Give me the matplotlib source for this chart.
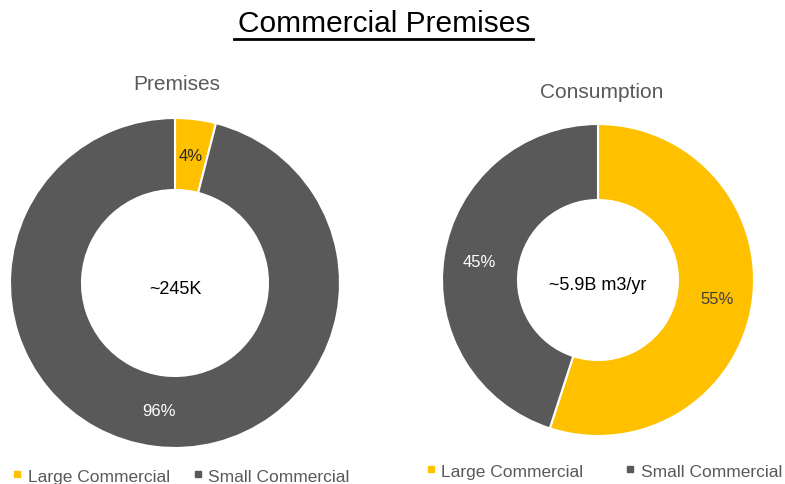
import matplotlib
matplotlib.use("Agg")
import matplotlib.pyplot as plt
from matplotlib.lines import Line2D
import numpy as np

plt.rcParams['font.family'] = ['Liberation Sans', 'DejaVu Sans']

categories = ["Large Commercial", "Small Commercial"]
premises_pct = [4, 96]
consumption_pct = [55, 45]
colors = ["#FFC000", "#595959"]

W, H = 785, 485
fig = plt.figure(figsize=(W / 100, H / 100), dpi=100)


def px_axes(cx, cy, r):
    return fig.add_axes([(cx - r) / W, (H - cy - r) / H, 2 * r / W, 2 * r / H])


def donut(ax, vals, hole_frac, pctd, center_text, center_dy, lbl_colors):
    ax.pie(vals, colors=colors, startangle=90, counterclock=False, radius=1,
           wedgeprops=dict(width=1 - hole_frac, edgecolor="white", linewidth=1.5))
    total = sum(vals)
    cum = 0
    for v, c in zip(vals, lbl_colors):
        mid = cum + v / 2
        ang = np.deg2rad(90 - 360 * mid / total)
        ax.text(pctd * np.cos(ang), pctd * np.sin(ang), f"{v}%", ha="center", va="center",
                fontsize=12, color=c)
        cum += v
    ax.text(0, center_dy, center_text, ha="center", va="center", fontsize=13, color="black")
    ax.set_xlim(-1, 1)
    ax.set_ylim(-1, 1)
    ax.set_aspect("equal")
    ax.axis("off")


ax1 = px_axes(175, 284, 165)
donut(ax1, premises_pct, 93 / 165, 0.78, "~245K", -6 / 165, ["#262626", "white"])

ax2 = px_axes(598, 281, 156)
donut(ax2, consumption_pct, 80 / 156, 0.77, "~5.9B m3/yr", -4 / 156, ["#404040", "white"])

fig.text(384 / W, 1 - 24 / H, "Commercial Premises", ha="center", va="center",
         fontsize=21.5, color="black")
# underline
fig.add_artist(Line2D([234 / W, 533 / W], [1 - 40 / H, 1 - 40 / H], color="black", lw=2))

fig.text(177 / W, 1 - 85 / H, "Premises", ha="center", va="center", fontsize=15, color="#595959")
fig.text(602 / W, 1 - 92 / H, "Consumption", ha="center", va="center", fontsize=15, color="#595959")


def legend_handles():
    return [Line2D([], [], marker="s", linestyle="none", markersize=5, color=c) for c in colors]


fig.legend(legend_handles(), categories, loc="center", bbox_to_anchor=(180 / W, 1 - 477 / H),
           ncol=2, frameon=False, fontsize=12.5, labelcolor="#595959", handletextpad=0.2,
           columnspacing=1.2, handlelength=0.8, borderaxespad=0, borderpad=0)
fig.legend(legend_handles(), categories, loc="center", bbox_to_anchor=(603 / W, 1 - 472 / H),
           ncol=2, frameon=False, fontsize=12.5, labelcolor="#595959", handletextpad=0.2,
           columnspacing=2.3, handlelength=0.8, borderaxespad=0, borderpad=0)

fig.savefig("out.png", dpi=100, facecolor="white")
